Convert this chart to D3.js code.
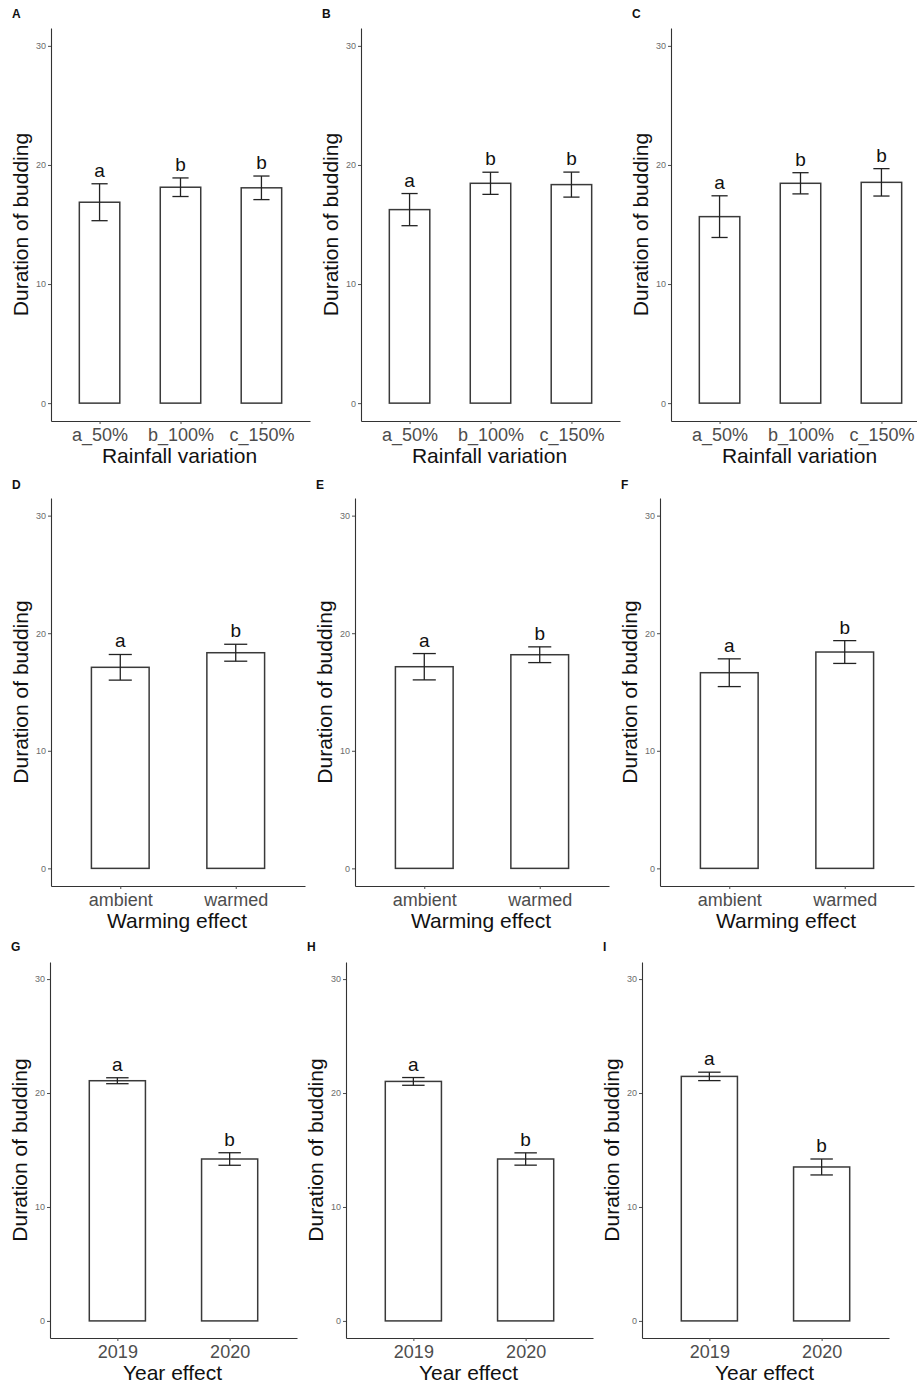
<!DOCTYPE html>
<html lang="en">
<head>
  <meta charset="UTF-8">
  <title>Duration of budding</title>
  <script src="https://d3js.org/d3.v7.min.js"></script>
  <style>
    body { margin: 0; background: #fff; }
    svg { display: block; font-family: "Liberation Sans", Arial, sans-serif; }
    .tick line { stroke: #4d4d4d; }
  </style>
</head>
<body>
  <svg id="chart" width="917" height="1383"></svg>
  <script>
    // ---- data ----
    const panelLabels = ["A", "B", "C", "D", "E", "F", "G", "H", "I"];
    const rainfallCats = ["a_50%", "b_100%", "c_150%"];
    const warmingCats = ["ambient", "warmed"];
    const yearCats = ["2019", "2020"];
    const xTitles = ["Rainfall variation", "Warming effect", "Year effect"];
    const yTitle = "Duration of budding";
    const yTicks = [0, 10, 20, 30];

    const meanA = [16.87, 18.13, 18.08], seA = [1.55, 0.78, 0.99];
    const meanB = [16.25, 18.46, 18.35], seB = [1.35, 0.93, 1.05];
    const meanC = [15.66, 18.46, 18.54], seC = [1.75, 0.89, 1.15];
    const meanD = [17.10, 18.34], seD = [1.09, 0.72];
    const meanE = [17.15, 18.17], seE = [1.12, 0.67];
    const meanF = [16.64, 18.40], seF = [1.18, 0.97];
    const meanG = [21.08, 14.21], seG = [0.26, 0.55];
    const meanH = [21.02, 14.21], seH = [0.34, 0.54];
    const meanI = [21.46, 13.51], seI = [0.37, 0.70];

    const lettersRain = ["a", "b", "b"];
    const lettersWarm = ["a", "b"];
    const lettersYear = ["a", "b"];

    // ---- layout ----
    const rows = [
      { top: 28, bottom: 421, labelY: 18, axisX: [51, 361, 671], width: 259,
        cats: rainfallCats, letters: lettersRain, title: xTitles[0] },
      { top: 498, bottom: 886, labelY: 489, axisX: [51, 355, 660], width: 254,
        cats: warmingCats, letters: lettersWarm, title: xTitles[1] },
      { top: 962, bottom: 1338, labelY: 951, axisX: [50, 346, 642], width: 247,
        cats: yearCats, letters: lettersYear, title: xTitles[2] }
    ];
    const means = [meanA, meanB, meanC, meanD, meanE, meanF, meanG, meanH, meanI];
    const ses = [seA, seB, seC, seD, seE, seF, seG, seH, seI];

    const svg = d3.select("#chart");

    rows.forEach((row, r) => {
      const y = d3.scaleLinear().domain([-1.5, 31.5]).range([row.bottom, row.top]);

      row.axisX.forEach((x0, c) => {
        const idx = r * 3 + c;
        const x = d3.scalePoint().domain(row.cats).range([x0, x0 + row.width]).padding(0.6);
        const step = x.step();
        const data = row.cats.map((k, i) => ({
          cat: k, mean: means[idx][i], se: ses[idx][i], letter: row.letters[i]
        }));
        const g = svg.append("g");

        // bars
        g.selectAll("rect.bar")
          .data(data)
          .join("rect")
          .attr("class", "bar")
          .attr("x", d => x(d.cat) - step * 0.25)
          .attr("width", step * 0.5)
          .attr("y", d => y(d.mean))
          .attr("height", d => y(0) - y(d.mean))
          .attr("fill", "#fff")
          .attr("stroke", "#3a3a3a")
          .attr("stroke-width", 1.5);

        // error bars
        const cap = step * 0.1;
        const eb = g.selectAll("g.err")
          .data(data)
          .join("g")
          .attr("class", "err")
          .attr("stroke", "#222")
          .attr("stroke-width", 1.3);
        eb.append("line")
          .attr("x1", d => x(d.cat)).attr("x2", d => x(d.cat))
          .attr("y1", d => y(d.mean + d.se)).attr("y2", d => y(d.mean - d.se));
        eb.append("line")
          .attr("x1", d => x(d.cat) - cap).attr("x2", d => x(d.cat) + cap)
          .attr("y1", d => y(d.mean + d.se)).attr("y2", d => y(d.mean + d.se));
        eb.append("line")
          .attr("x1", d => x(d.cat) - cap).attr("x2", d => x(d.cat) + cap)
          .attr("y1", d => y(d.mean - d.se)).attr("y2", d => y(d.mean - d.se));

        // significance letters
        g.selectAll("text.letter")
          .data(data)
          .join("text")
          .attr("class", "letter")
          .attr("x", d => x(d.cat))
          .attr("y", d => y(d.mean + d.se) - 7)
          .attr("text-anchor", "middle")
          .attr("font-size", 19)
          .attr("fill", "#111")
          .text(d => d.letter);

        // y axis
        const yAxis = g.append("g")
          .attr("transform", `translate(${x0},0)`)
          .call(d3.axisLeft(y).tickValues(yTicks).tickSize(3).tickSizeOuter(0).tickPadding(2));
        yAxis.select(".domain").attr("stroke", "#333").attr("stroke-width", 1.1);
        yAxis.selectAll(".tick text").attr("font-size", 9).attr("fill", "#6b6b6b")
          .attr("font-family", "'Liberation Sans', Arial, sans-serif");

        // x axis
        const xAxis = g.append("g")
          .attr("transform", `translate(0,${row.bottom})`)
          .call(d3.axisBottom(x).tickSize(3).tickSizeOuter(0).tickPadding(3));
        xAxis.select(".domain").attr("stroke", "#333").attr("stroke-width", 1.1);
        xAxis.selectAll(".tick text").attr("font-size", 18).attr("fill", "#4d4d4d")
          .attr("dy", null).attr("y", 20)
          .attr("font-family", "'Liberation Sans', Arial, sans-serif");

        // axis titles
        g.append("text")
          .attr("x", x0 + row.width / 2 - 1)
          .attr("y", row.bottom + 42)
          .attr("text-anchor", "middle")
          .attr("font-size", 21)
          .attr("fill", "#111")
          .text(row.title);

        g.append("text")
          .attr("transform", `translate(${x0 - 23},${(row.top + row.bottom) / 2}) rotate(-90)`)
          .attr("text-anchor", "middle")
          .attr("font-size", 21)
          .attr("fill", "#111")
          .text(yTitle);

        // panel tag
        g.append("text")
          .attr("x", x0 - 39)
          .attr("y", row.labelY)
          .attr("font-size", 12)
          .attr("font-weight", "bold")
          .attr("fill", "#111")
          .text(panelLabels[idx]);
      });
    });
  </script>
</body>
</html>
